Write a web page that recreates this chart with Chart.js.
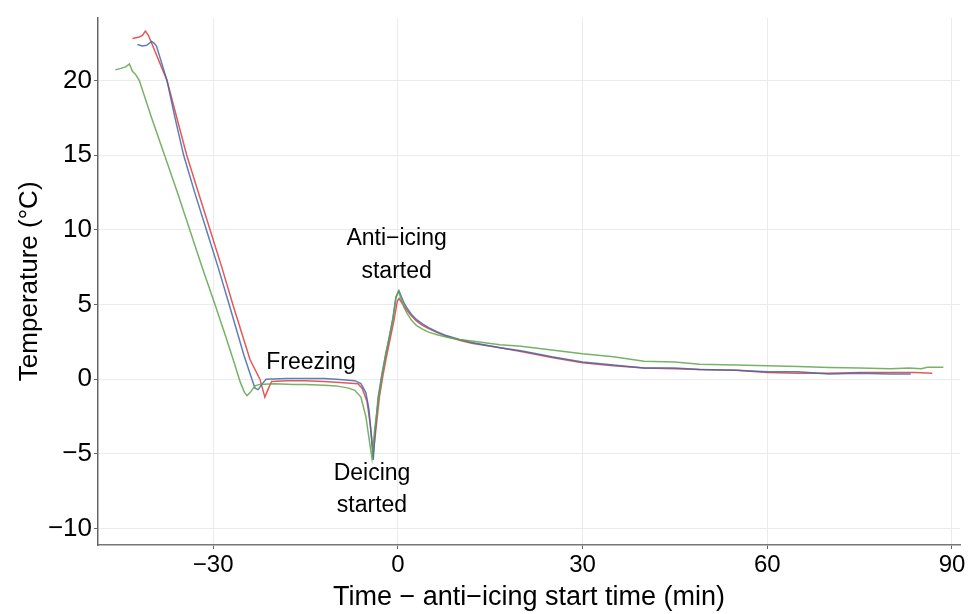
<!DOCTYPE html>
<html>
<head>
<meta charset="utf-8">
<script src="https://cdn.jsdelivr.net/npm/chart.js@4/dist/chart.umd.min.js"></script>
<style>
  html, body { margin: 0; padding: 0; background: #ffffff; }
  #wrap { width: 968px; height: 614px; position: relative; }
</style>
</head>
<body>
<div id="wrap"><canvas id="c" width="968" height="614"></canvas></div>
<script>
// ---- data (time in min relative to anti-icing start, temperature in °C) ----
const timeGreen = [-45.9,-45.0,-44.2,-43.6,-43.1,-42.6,-42.0,-40.0,-37.9,-35.8,-33.8,-31.8,-29.7,-28.0,-26.5,-25.6,-24.9,-24.5,-24.0,-23.2,-22.5,-20.0,-17.0,-15.0,-12.0,-10.0,-8.0,-7.0,-6.0,-5.2,-4.6,-4.2,-3.8,-3.2,-2.6,-2.0,-1.4,-0.8,-0.3,0.1,0.5,1.0,1.5,2.2,3.0,4.0,5.0,6.5,8.0,10.0,12.0,16.6,20.0,25.0,30.0,35.0,40.0,45.0,49.0,55.0,60.0,65.0,70.0,75.0,80.0,83.0,85.0,86.0,88.6];
const tempGreen = [20.7,20.8,20.9,21.1,20.6,20.4,20.0,17.5,15.0,12.5,10.0,7.5,5.0,2.9,1.0,-0.2,-0.9,-1.1,-0.9,-0.45,-0.35,-0.3,-0.35,-0.35,-0.4,-0.45,-0.6,-0.75,-1.2,-2.5,-4.2,-5.3,-3.5,-1.5,0.2,1.6,2.8,4.0,5.5,5.9,5.4,4.8,4.4,3.95,3.6,3.35,3.15,2.95,2.8,2.65,2.55,2.3,2.2,1.95,1.7,1.5,1.2,1.15,1.0,0.95,0.9,0.85,0.78,0.75,0.7,0.75,0.7,0.8,0.8];

const timeBlue = [-42.3,-41.5,-40.8,-40.0,-39.6,-39.2,-37.5,-36.2,-34.8,-33.0,-31.1,-29.2,-27.4,-25.0,-23.7,-23.2,-22.7,-22.0,-21.4,-18.0,-15.0,-12.0,-10.0,-7.0,-6.0,-5.2,-4.7,-4.3,-4.0,-3.7,-3.2,-2.6,-2.0,-1.4,-0.8,-0.3,0.2,0.6,1.0,1.5,2.2,3.0,4.0,5.0,6.5,8.0,10.0,12.0,16.6,20.0,25.0,30.0,35.0,40.0,45.0,49.0,55.0,60.0,65.0,70.0,75.0,80.0,83.3];
const tempBlue = [22.4,22.3,22.35,22.6,22.5,22.3,20.0,17.5,15.0,12.5,10.0,7.5,5.0,1.6,0.0,-0.6,-0.7,-0.3,0.0,0.05,0.05,0.05,0.0,-0.1,-0.3,-0.9,-2.0,-3.8,-5.4,-3.5,-1.2,0.3,1.6,2.8,4.1,5.5,5.9,5.5,5.1,4.75,4.35,4.0,3.7,3.45,3.15,2.9,2.65,2.45,2.1,1.9,1.5,1.15,0.95,0.75,0.75,0.65,0.6,0.5,0.5,0.35,0.4,0.35,0.35];

const timeRed = [-43.1,-42.0,-41.5,-41.0,-40.5,-40.0,-37.5,-35.9,-34.3,-32.4,-30.5,-28.6,-26.8,-24.0,-22.4,-21.6,-21.0,-20.5,-18.0,-15.0,-12.0,-10.0,-6.5,-5.8,-5.0,-4.5,-4.0,-3.6,-3.0,-2.4,-1.8,-1.2,-0.6,-0.1,0.2,0.6,1.0,1.5,2.2,3.0,4.0,5.0,6.5,8.0,10.0,12.0,16.6,20.0,25.0,30.0,35.0,40.0,45.0,49.0,55.0,60.0,65.0,70.0,75.0,80.0,84.0,86.8];
const tempRed = [22.8,22.9,23.0,23.3,23.0,22.5,20.0,17.5,15.0,12.5,10.0,7.5,5.0,1.3,0.0,-1.2,-0.6,-0.15,-0.1,-0.1,-0.15,-0.2,-0.3,-0.6,-1.5,-3.0,-5.0,-3.5,-1.2,0.3,1.6,2.8,4.0,5.2,5.4,5.15,4.9,4.6,4.25,3.9,3.6,3.38,3.1,2.85,2.6,2.4,2.1,1.85,1.45,1.1,0.9,0.75,0.7,0.65,0.6,0.45,0.4,0.4,0.45,0.45,0.45,0.4];

const xTickValues = [-30, 0, 30, 60, 90];
const yTickValues = [-10, -5, 0, 5, 10, 15, 20];

const annotationTexts = ['Freezing', 'Anti\u2212icing', 'started', 'Deicing', 'started'];
const annotationX = [-14.1, -0.2, -0.2, -4.2, -4.2];
const annotationY = [1.13, 9.4, 7.2, -6.34, -8.46];

// ---- helpers ----
function pts(xs, ys) { return xs.map((x, i) => ({ x: x, y: ys[i] })); }
function fmt(v) { return v < 0 ? '\u2212' + Math.abs(v) : String(v); }

const FONT = '"Liberation Sans", Arial, sans-serif';

const annotationPlugin = {
  id: 'textNotes',
  afterDatasetsDraw(chart) {
    const ctx = chart.ctx;
    const xs = chart.scales.x, ys = chart.scales.y;
    ctx.save();
    ctx.font = '23px ' + FONT;
    ctx.fillStyle = '#000';
    ctx.textAlign = 'center';
    ctx.textBaseline = 'middle';
    annotationTexts.forEach((t, i) => {
      ctx.fillText(t, xs.getPixelForValue(annotationX[i]), ys.getPixelForValue(annotationY[i]));
    });
    ctx.restore();
  }
};

new Chart(document.getElementById('c'), {
  type: 'line',
  data: {
    datasets: [
      { label: 'Green', data: pts(timeGreen, tempGreen), borderColor: 'rgba(95,165,75,0.85)', borderWidth: 1.5, pointRadius: 0, tension: 0 },
      { label: 'Blue', data: pts(timeBlue, tempBlue), borderColor: 'rgba(65,105,170,0.85)', borderWidth: 1.5, pointRadius: 0, tension: 0 },
      { label: 'Red', data: pts(timeRed, tempRed), borderColor: 'rgba(222,60,60,0.85)', borderWidth: 1.5, pointRadius: 0, tension: 0 }
    ]
  },
  options: {
    responsive: false,
    animation: false,
    devicePixelRatio: 1,
    layout: { padding: { top: 12, right: 8, left: 0, bottom: 0 } },
    plugins: { legend: { display: false }, tooltip: { enabled: false } },
    scales: {
      x: {
        type: 'linear',
        min: -48.7, max: 91.3,
        afterBuildTicks: s => { s.ticks = xTickValues.map(v => ({ value: v })); },
        afterFit: s => { s.height = 69; },
        grid: { color: '#ebebeb', lineWidth: 1, tickLength: 4, tickColor: '#666' },
        border: { display: true, color: '#777', width: 1.5 },
        ticks: { color: '#000', font: { family: FONT, size: 24 }, padding: 2, maxRotation: 0, autoSkip: false, callback: v => fmt(v) },
        title: { display: true, text: 'Time \u2212 anti\u2212icing start time (min)', color: '#000', font: { family: FONT, size: 27 }, padding: { top: 0, bottom: 0 } }
      },
      y: {
        type: 'linear',
        min: -11.1, max: 24.2,
        afterBuildTicks: s => { s.ticks = yTickValues.map(v => ({ value: v })); },
        afterFit: s => { s.width = 98; },
        grid: { color: '#ebebeb', lineWidth: 1, tickLength: 4, tickColor: '#666' },
        border: { display: true, color: '#666', width: 1.5 },
        ticks: { color: '#000', font: { family: FONT, size: 26 }, padding: 2, autoSkip: false, callback: v => fmt(v) },
        title: { display: true, text: 'Temperature (\u00b0C)', color: '#000', font: { family: FONT, size: 26 }, padding: { top: 14, bottom: 0 } }
      }
    }
  },
  plugins: [annotationPlugin]
});
</script>
</body>
</html>
